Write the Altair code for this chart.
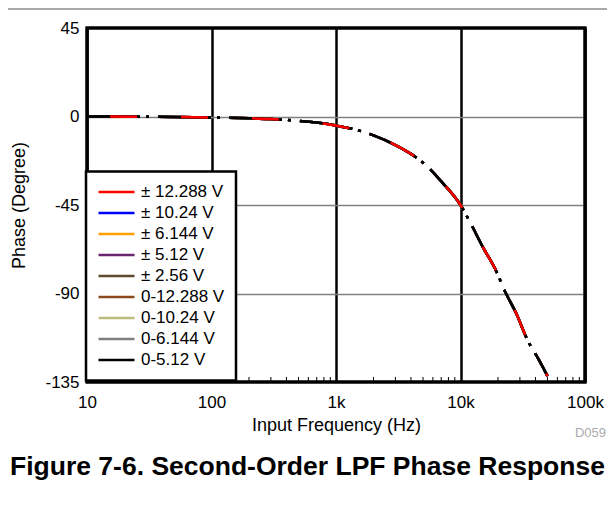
import altair as alt
import pandas as pd

# ---- data ----
series = ["± 12.288 V", "± 10.24 V", "± 6.144 V", "± 5.12 V", "± 2.56 V",
          "0-12.288 V", "0-10.24 V", "0-6.144 V", "0-5.12 V"]
colors = ["#FF0000", "#0000FF", "#FFA000", "#6B2470", "#5E4A2C",
          "#8B4A1E", "#BDBB7E", "#7F7F7F", "#000000"]
freq = [10, 20, 50, 100, 200, 300, 500, 700, 1000, 1400, 2000, 3000, 4000,
        5000, 7000, 10000, 12000, 15000, 19000, 23000, 28000, 35000, 42000, 50000]
phase = [0, -0.1, -0.2, -0.5, -0.9, -1.3, -2.2, -3.1, -4.6, -6.5, -9.6, -14.5, -19,
         -23.5, -33, -45, -54, -66, -77.5, -89.5, -100, -114.5, -123, -132]
x_ticks = [10, 100, 1000, 10000, 100000]
y_ticks = [-135, -90, -45, 0, 45]
minor_ticks = [20, 30, 40, 50, 60, 70, 80, 90,
               200, 300, 400, 500, 600, 700, 800, 900,
               2000, 3000, 4000, 5000, 6000, 7000, 8000, 9000,
               20000, 30000, 40000, 50000, 60000, 70000, 80000, 90000]

FONT = "Liberation Sans"
W, H = 498, 354

df = pd.DataFrame([{"series": s, "freq": f, "phase": p}
                   for s in series for f, p in zip(freq, phase)])

xscale = alt.Scale(type="log", domain=[10, 100000], nice=False)
xaxis = alt.Axis(values=x_ticks, title="Input Frequency (Hz)",
                 labelExpr="datum.value >= 1000 ? format(datum.value/1000, 'd') + 'k' : format(datum.value, 'd')",
                 grid=True, gridColor="black", gridWidth=2.5, gridOpacity=1,
                 ticks=False, tickSize=0, domain=False,
                 labelFont=FONT, labelFontSize=17, labelColor="black",
                 labelPadding=12, labelFlush=False, labelOverlap=False,
                 titleFont=FONT, titleFontSize=18, titleFontWeight="normal",
                 titleColor="black", titlePadding=6)
X = alt.X("freq:Q", scale=xscale, axis=xaxis)
Y = alt.Y("phase:Q", scale=alt.Scale(domain=[-135, 45], nice=False, zero=False),
          axis=alt.Axis(values=y_ticks, title="Phase (Degree)",
                        labelExpr="'' + datum.value",
                        grid=True, gridColor="#808080", gridWidth=1.5, gridOpacity=1,
                        ticks=False, tickSize=0, domain=False,
                        labelFont=FONT, labelFontSize=17, labelColor="black",
                        labelPadding=8,
                        titleFont=FONT, titleFontSize=18, titleFontWeight="normal",
                        titleColor="black", titlePadding=16))
C = alt.Color("series:N", scale=alt.Scale(domain=series, range=colors),
              legend=alt.Legend(title=None, orient="none", legendX=-1, legendY=143.5,
                                fillColor="white", strokeColor="black", padding=11,
                                symbolType="stroke", symbolSize=1296,
                                symbolStrokeWidth=2.5, symbolDash=[1, 0],
                                labelFont=FONT, labelFontSize=17, labelColor="black",
                                labelOffset=5, clipHeight=19, rowPadding=2,
                                labelLimit=200))

base = alt.Chart(df).encode(x=X, y=Y, color=C)
dash_main = [53, 6, 3, 9]
all_lines = base.mark_line(strokeWidth=2.5, strokeDash=dash_main, interpolate="monotone")
black_top = base.transform_filter(alt.datum.series == series[-1]).mark_line(
    strokeWidth=2.5, strokeDash=dash_main, interpolate="monotone")
red_top = base.transform_filter(alt.datum.series == series[0]).mark_line(
    strokeWidth=2.5, strokeDash=[27, 44], strokeDashOffset=48, interpolate="monotone")

minor_layer = alt.Chart(pd.DataFrame({"freq": minor_ticks})).mark_rule(
    color="black", strokeWidth=1).encode(x=X, y=alt.value(H), y2=alt.value(H - 5))

one = pd.DataFrame({"k": [0]})
frame = alt.Chart(one).mark_rect(fill="transparent", stroke="black", strokeWidth=3).encode(
    x=alt.value(0), x2=alt.value(W), y=alt.value(0), y2=alt.value(H))
top_rule = alt.Chart(one).mark_rule(color="#555555", strokeWidth=1).encode(
    x=alt.value(-79), x2=alt.value(W + 22), y=alt.value(-19))
code_txt = alt.Chart(one).mark_text(align="right", baseline="middle", font=FONT,
                                    fontSize=13, color="#AAAAAA").encode(
    x=alt.value(W + 21), y=alt.value(H + 51), text=alt.value("D059"))

chart = alt.layer(frame, all_lines, black_top, red_top, minor_layer, top_rule, code_txt).properties(
    width=W, height=H,
    background="white",
    autosize=alt.AutoSizeParams(type="none"),
    padding={"left": 79, "top": 20, "right": 22, "bottom": 130},
    title=alt.TitleParams(text="Figure 7-6. Second-Order LPF Phase Response",
                          orient="bottom", anchor="middle", frame="bounds",
                          font=FONT, fontSize=26.5, fontWeight="bold", color="black",
                          offset=14),
).configure_view(stroke="black", strokeWidth=3).configure_legend(strokeWidth=2.5)

chart.save("out.html", embed_options={"renderer": "svg", "actions": False})
